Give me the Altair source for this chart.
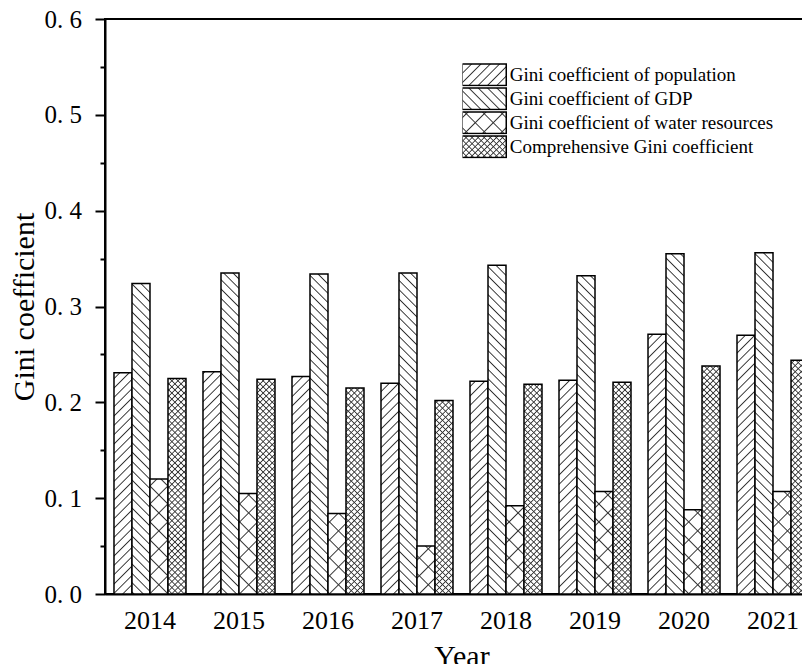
import altair as alt
import pandas as pd
import jinja2

# ---- data ----
years = ["2014", "2015", "2016", "2017", "2018", "2019", "2020", "2021"]
series = [
    "Gini coefficient of population",
    "Gini coefficient of GDP",
    "Gini coefficient of water resources",
    "Comprehensive Gini coefficient",
]
gini_population = [0.231, 0.232, 0.227, 0.220, 0.222, 0.223, 0.271, 0.270]
gini_gdp = [0.324, 0.335, 0.334, 0.335, 0.343, 0.332, 0.355, 0.356]
gini_water = [0.120, 0.105, 0.084, 0.050, 0.092, 0.107, 0.088, 0.107]
gini_comprehensive = [0.225, 0.224, 0.215, 0.202, 0.219, 0.221, 0.238, 0.244]
y_tick_values = [0.0, 0.05, 0.1, 0.15, 0.2, 0.25, 0.3, 0.35, 0.4, 0.45, 0.5, 0.55, 0.6]

rows = []
for name, vals in zip(series, [gini_population, gini_gdp, gini_water, gini_comprehensive]):
    for yr, v in zip(years, vals):
        rows.append({"year": yr, "series": name, "value": v})
df = pd.DataFrame(rows)

# hatch patterns (defined as SVG <pattern>s in the page template)
pattern_fills = ["url(#hatch-pop)", "url(#hatch-gdp)", "url(#hatch-water)", "url(#hatch-comp)"]

SERIF = "Liberation Serif"
major = "round(datum.value*100) % 10 === 0"

bars = alt.Chart(df).mark_bar(stroke="black", strokeWidth=1.5).encode(
    x=alt.X(
        "year:N",
        sort=years,
        scale=alt.Scale(paddingInner=0.191, paddingOuter=0.101),
        axis=alt.Axis(
            title="Year",
            labelAngle=0,
            ticks=False,
            domainColor="black",
            domainWidth=2,
            labelFont=SERIF,
            labelFontSize=26,
            labelColor="black",
            labelPadding=13,
            titleFont=SERIF,
            titleFontSize=30,
            titleFontWeight="normal",
            titleColor="black",
            titleBaseline="alphabetic",
            titleX=356.5,
            titleY=71,
        ),
    ),
    xOffset=alt.XOffset(
        "series:N",
        scale=alt.Scale(domain=series, paddingInner=0, paddingOuter=0),
    ),
    y=alt.Y(
        "value:Q",
        scale=alt.Scale(domain=[0, 0.6], nice=False),
        axis=alt.Axis(
            title="Gini coefficient",
            values=y_tick_values,
            grid=False,
            domainColor="black",
            domainWidth=2,
            tickColor="black",
            tickWidth=2,
            tickSize={"condition": {"test": major, "value": 10}, "value": 5},
            labelExpr=major + " ? replace(format(datum.value, '.1f'), '.', '. ') : ''",
            labelFont=SERIF,
            labelFontSize=25,
            labelColor="black",
            labelPadding=13.5,
            titleFont=SERIF,
            titleFontSize=30,
            titleFontWeight="normal",
            titleColor="black",
            titleAngle=270,
            titleBaseline="alphabetic",
            titleX=-72,
            titleY=287.5,
        ),
    ),
    fill=alt.Fill(
        "series:N",
        scale=alt.Scale(domain=series, range=pattern_fills),
        legend=alt.Legend(
            title=None,
            orient="none",
            legendX=357.5,
            legendY=44,
            direction="vertical",
            symbolType="M-2.047,-1H2.047V1H-2.047Z",
            symbolSize=462,
            symbolOffset=10.25,
            symbolStrokeColor="black",
            symbolStrokeWidth=1.5,
            labelFont=SERIF,
            labelFontSize=19,
            labelColor="black",
            labelOffset=14,
            labelLimit=0,
            clipHeight=23.4,
            rowPadding=0,
            padding=0,
        ),
    ),
)

chart = bars.properties(
    width=713,
    height=575,
    autosize=alt.AutoSizeParams(type="none"),
    padding={"left": 97, "top": 11, "right": 10, "bottom": 70},
    background="white",
).configure_view(stroke="black", strokeWidth=2)

PAGE = jinja2.Template("""<!DOCTYPE html>
<html>
<head>
<meta charset="utf-8">
<style>
  body { margin: 8px; overflow: hidden; background: white; }
</style>
<script type="text/javascript" src="{{ base_url }}/vega@{{ vega_version }}"></script>
<script type="text/javascript" src="{{ base_url }}/vega-lite@{{ vegalite_version }}"></script>
<script type="text/javascript" src="{{ base_url }}/vega-embed@{{ vegaembed_version }}"></script>
</head>
<body>
<svg width="0" height="0" style="position:absolute">
  <defs>
    <pattern id="hatch-pop" patternUnits="userSpaceOnUse" width="6.6" height="6.6" patternTransform="rotate(45)">
      <rect width="6.6" height="6.6" fill="white"/>
      <line x1="3.3" y1="0" x2="3.3" y2="6.6" stroke="#333" stroke-width="1"/>
    </pattern>
    <pattern id="hatch-gdp" patternUnits="userSpaceOnUse" width="6.6" height="6.6" patternTransform="rotate(-45)">
      <rect width="6.6" height="6.6" fill="white"/>
      <line x1="3.3" y1="0" x2="3.3" y2="6.6" stroke="#333" stroke-width="1"/>
    </pattern>
    <pattern id="hatch-water" patternUnits="userSpaceOnUse" width="12.7" height="12.7" patternTransform="rotate(45)">
      <rect width="12.7" height="12.7" fill="white"/>
      <line x1="6.35" y1="0" x2="6.35" y2="12.7" stroke="#333" stroke-width="1"/>
      <line x1="0" y1="6.35" x2="12.7" y2="6.35" stroke="#333" stroke-width="1"/>
    </pattern>
    <pattern id="hatch-comp" patternUnits="userSpaceOnUse" width="4.3" height="4.3" patternTransform="rotate(45)">
      <rect width="4.3" height="4.3" fill="white"/>
      <line x1="2.15" y1="0" x2="2.15" y2="4.3" stroke="#333" stroke-width="0.9"/>
      <line x1="0" y1="2.15" x2="4.3" y2="2.15" stroke="#333" stroke-width="0.9"/>
    </pattern>
  </defs>
</svg>
<div id="{{ output_div }}"></div>
<script type="text/javascript">
  vegaEmbed("#{{ output_div }}", {{ spec }}, {{ embed_options }}).catch(console.error);
</script>
</body>
</html>
""")

chart.save("out.html", embed_options={"renderer": "svg", "actions": False}, template=PAGE)
